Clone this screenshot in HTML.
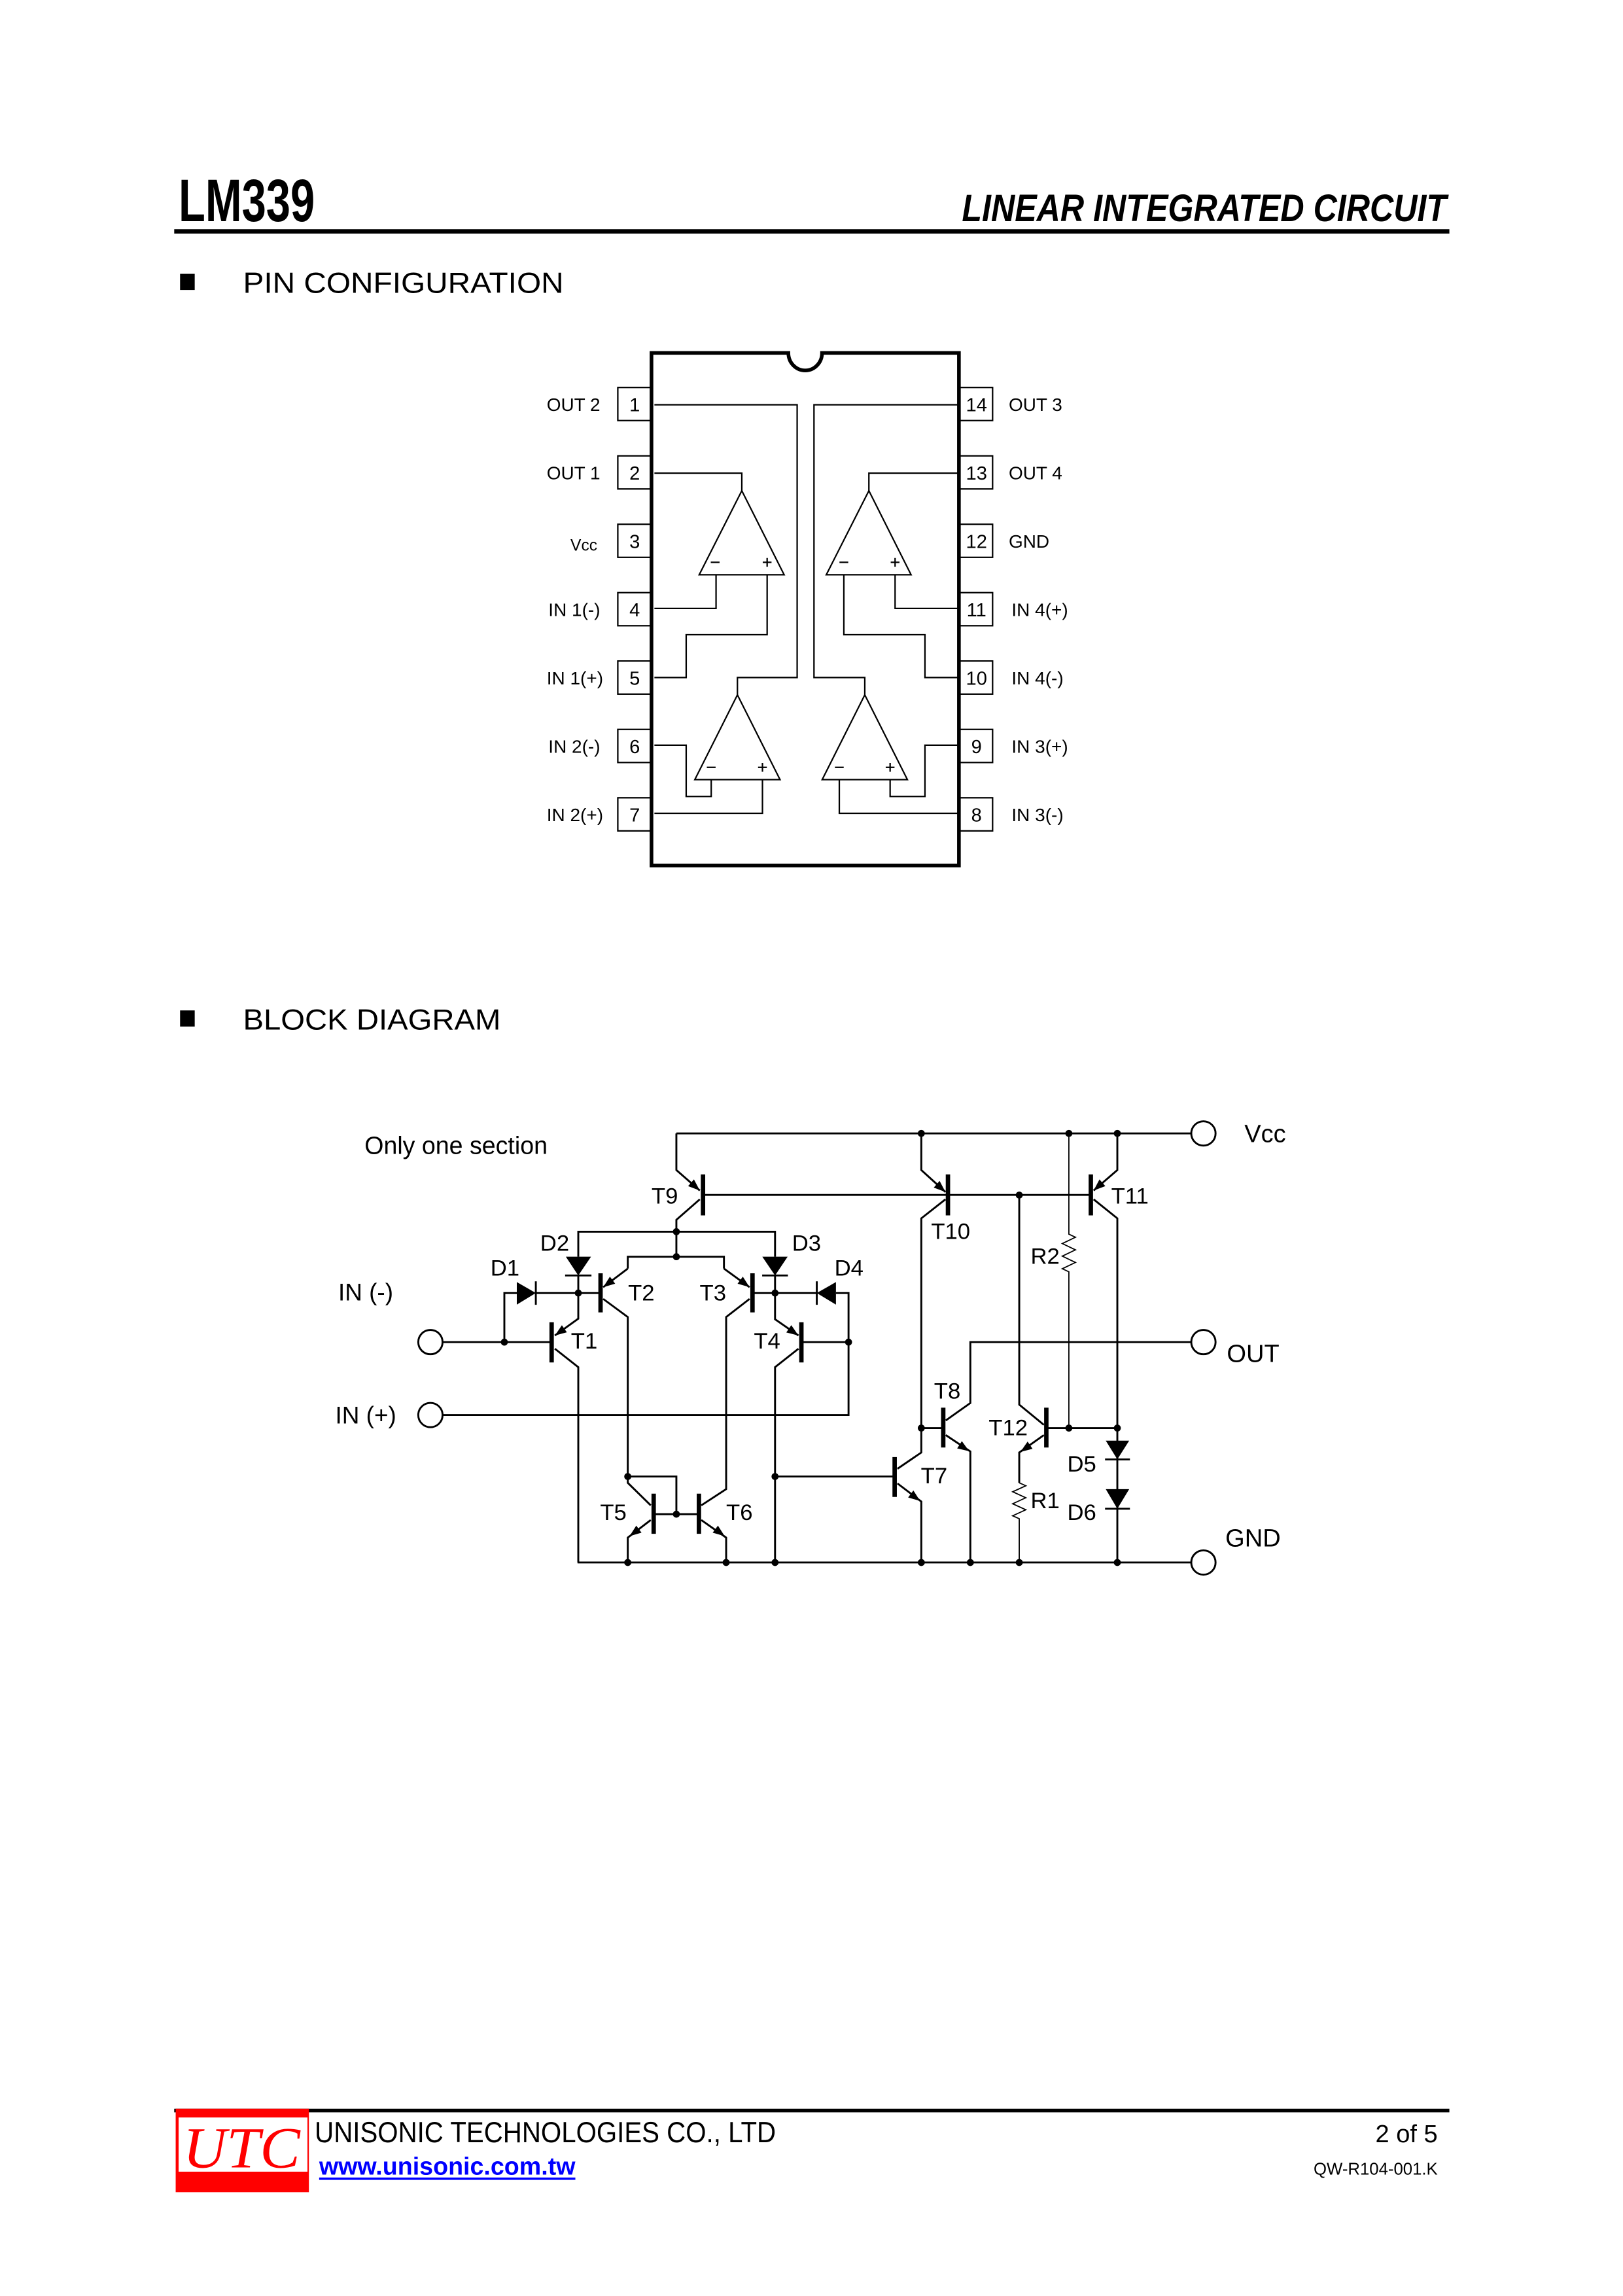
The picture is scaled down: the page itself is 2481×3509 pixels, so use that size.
<!DOCTYPE html>
<html><head><meta charset="utf-8"><style>html,body{margin:0;padding:0;background:#fff}svg{display:block}</style></head>
<body>
<svg xmlns="http://www.w3.org/2000/svg" width="2481" height="3509" viewBox="0 0 1108.6 1567.9" preserveAspectRatio="none" font-family="Liberation Sans, sans-serif">
<rect width="1110" height="1570" fill="#fff"/>
<!-- Header -->
<text x="122" y="151" font-size="41" font-weight="bold" textLength="93" lengthAdjust="spacingAndGlyphs">LM339</text>
<text x="657" y="151" font-size="26" font-weight="bold" font-style="italic" textLength="331" lengthAdjust="spacingAndGlyphs">LINEAR INTEGRATED CIRCUIT</text>
<rect x="119" y="156.5" width="871" height="3" fill="#000"/>
<rect x="123" y="187" width="10" height="11" fill="#000"/>
<text x="166" y="200" font-size="20" textLength="219" lengthAdjust="spacingAndGlyphs">PIN CONFIGURATION</text>
<rect x="123" y="690" width="10" height="11" fill="#000"/>
<text x="166" y="703" font-size="20" textLength="176" lengthAdjust="spacingAndGlyphs">BLOCK DIAGRAM</text>

<!-- Pin configuration -->
<g fill="none" stroke="#000">
<path d="M445,241 H538.5 A11.5,12 0 0 0 561.5,241 H655 V591 H445 Z" stroke-width="2.5"/>
<g stroke-width="1">
<rect x="422" y="264.6" width="23" height="22.6"/>
<rect x="422" y="311.3" width="23" height="22.6"/>
<rect x="422" y="358" width="23" height="22.6"/>
<rect x="422" y="404.7" width="23" height="22.6"/>
<rect x="422" y="451.4" width="23" height="22.6"/>
<rect x="422" y="498.1" width="23" height="22.6"/>
<rect x="422" y="544.8" width="23" height="22.6"/>
<rect x="655" y="264.6" width="23" height="22.6"/>
<rect x="655" y="311.3" width="23" height="22.6"/>
<rect x="655" y="358" width="23" height="22.6"/>
<rect x="655" y="404.7" width="23" height="22.6"/>
<rect x="655" y="451.4" width="23" height="22.6"/>
<rect x="655" y="498.1" width="23" height="22.6"/>
<rect x="655" y="544.8" width="23" height="22.6"/>
<path d="M447,276.4 H544.5 V462.7 H503.7 V474.5"/>
<path d="M654,276.4 H556 V462.7 H590.7 V474.5"/>
<path d="M506.7,335.1 L477.6,392.5 H535.6 Z"/>
<path d="M447,323.1 H506.7 V335.1"/>
<path d="M447,415.5 H489.1 V392.5"/>
<path d="M447,462.7 H468.7 V433.4 H524 V392.5"/>
<path d="M593.5,335.1 L564.4,392.5 H622.3 Z"/>
<path d="M654,323.1 H593.5 V335.1"/>
<path d="M654,415.5 H611.4 V392.5"/>
<path d="M654,462.7 H631.8 V433.4 H576.4 V392.5"/>
<path d="M503.7,474.5 L474.6,532.4 H532.8 Z"/>
<path d="M447,508.9 H468.7 V543.9 H485.8 V532.4"/>
<path d="M447,555.4 H520.8 V532.4"/>
<path d="M590.7,474.5 L561.6,532.4 H619.8 Z"/>
<path d="M654,508.9 H631.8 V543.9 H608 V532.4"/>
<path d="M654,555.4 H573.3 V532.4"/>
<path d="M485.5,384 h6 M521,384 h6 M524,381 v6 M573.4,384 h6 M608.4,384 h6 M611.4,381 v6 M482.8,524 h6 M517.8,524 h6 M520.8,521 v6 M570.3,524 h6 M605,524 h6 M608,521 v6"/>
</g></g>
<g font-size="12.5" text-anchor="end">
<text x="410" y="280.5">OUT 2</text><text x="410" y="327.2">OUT 1</text>
<text x="408" y="376" font-size="11">Vcc</text><text x="410" y="420.6">IN 1(-)</text>
<text x="412" y="467.3">IN 1(+)</text><text x="410" y="514">IN 2(-)</text><text x="412" y="560.7">IN 2(+)</text>
</g>
<g font-size="12.5">
<text x="689" y="280.5">OUT 3</text><text x="689" y="327.2">OUT 4</text><text x="689" y="374">GND</text>
<text x="691" y="420.6">IN 4(+)</text><text x="691" y="467.3">IN 4(-)</text><text x="691" y="514">IN 3(+)</text><text x="691" y="560.7">IN 3(-)</text>
</g>
<g font-size="13" text-anchor="middle">
<text x="433.5" y="280.8">1</text><text x="433.5" y="327.5">2</text><text x="433.5" y="374.2">3</text><text x="433.5" y="420.9">4</text><text x="433.5" y="467.6">5</text><text x="433.5" y="514.3">6</text><text x="433.5" y="561">7</text>
<text x="667" y="280.8">14</text><text x="667" y="327.5">13</text><text x="667" y="374.2">12</text><text x="667" y="420.9">11</text><text x="667" y="467.6">10</text><text x="667" y="514.3">9</text><text x="667" y="561">8</text>
</g>

<!-- Block diagram -->
<g fill="none" stroke="#000" stroke-width="1.3">
<path d="M462,774 H813.5"/>
<path d="M394.5,1067 H813.5"/>
<path d="M462,774 V799 L478,813 M478,819 L462,833 V858.2 M480,816 H745"/>
<path d="M629.3,774 V799 L645.8,814 M645.8,819 L629.3,832 V991.9 L613,1003"/>
<path d="M763.2,774 V799 L747,813 M747,819 L763.2,832 V1067"/>
<path d="M730.1,774 V842.8 l4.5,2.1 l-9,4.3 l9,4.3 l-9,4.3 l9,4.3 l-9,4.3 l4.5,2.1 V975.2" stroke-width="0.8"/>
<path d="M696.2,816.1 V959.2 L713,973 M714.7,975.2 H763.2 M713,980 L696.2,991.9 V1012.6"/>
<path d="M696.2,1012.6 l4.5,2 l-9,4.1 l9,4.1 l-9,4.1 l9,4.1 l-9,4.1 l4.5,2 V1067" stroke-width="0.8"/>
<path d="M629.3,975.2 H644.3 M646,970 L662.8,958.1 V916.5 H813.5 M646,980 L662.8,991.2 V1067"/>
<path d="M529.4,1008.3 H611.1 M613,1013 L629.3,1025.4 V1067"/>
<path d="M395,858.2 V841.1 H529.4 V858.2 M428.8,866.3 V858.2 H494.5 V866.3"/>
<path d="M428.8,866.3 L412,879 M412,887 L428.8,899.4 V1012.6 L444.5,1028"/>
<path d="M494.5,866.3 L512,879 M512,887 L496,899.4 V1016.9 L479,1028"/>
<path d="M302.5,916.5 H376.8 M395,883 V900.5 L379,912 M379,921 L395,933.6 V1067"/>
<path d="M344.5,916.5 V883 H353 M366,883 H410.2"/>
<path d="M395,871 V883"/>
<path d="M529.4,871 V883"/>
<path d="M514,883 H557.9 M571,883 H579.6 V966.3 H302.5 M547.4,916.5 H579.6"/>
<path d="M529.4,883 V900.9 L545.4,912 M545.4,921 L529.4,933.6 V1067"/>
<path d="M428.8,1008.3 H462 V1034 M446.5,1034 H477.4"/>
<path d="M444.5,1038 L428.8,1050 V1067 M479,1038 L496,1050 V1067"/>
<circle cx="294" cy="916.5" r="8.3"/>
<circle cx="294" cy="966.3" r="8.3"/>
<circle cx="822" cy="774" r="8.3"/>
<circle cx="822" cy="916.5" r="8.3"/>
<circle cx="822" cy="1067" r="8.3"/>
</g>
<g stroke="#000" stroke-width="3">
<path d="M480.2,802 V830 M647.5,802 V830 M745.1,802 V830"/>
<path d="M376.8,903 V930.4 M410.2,869.5 V896.2 M514,869.5 V896.2 M547.4,903 V930.4"/>
<path d="M446.5,1020 V1047.4 M477.4,1020 V1047.4 M611.1,995 V1022.2 M644.3,961.3 V988.5 M714.7,961.3 V988.5"/>
</g>
<g stroke="#000" stroke-width="1.3">
<path d="M366,875 V891 M386,871 H404 M520.6,871 H538.2 M557.9,875 V891 M754.8,996.6 H771.8 M754.8,1030.3 H771.8"/>
</g>
<g fill="#000">
<polygon points="353,875.5 353,890.9 366,883"/>
<polygon points="386.5,858.2 403.7,858.2 395,871"/>
<polygon points="520.7,858.2 538,858.2 529.4,871"/>
<polygon points="571,875.5 571,890.9 557.9,883"/>
<polygon points="755.3,983.8 771.3,983.8 763.2,996.6"/>
<polygon points="755.3,1016.9 771.3,1016.9 763.2,1030.3"/>
<polygon points="478,813 470,810 474,805.4"/>
<polygon points="645.8,814 637.8,811 641.8,806.4"/>
<polygon points="747,813 751,805.4 755,810"/>
<polygon points="379,912 383.8,905 387.2,909.8"/>
<polygon points="412,879 416.6,871.8 420.2,876.6"/>
<polygon points="512,879 503.8,876.6 507.4,871.8"/>
<polygon points="545.4,912 537.1,909.9 540.5,904.9"/>
<polygon points="430,1049 434.6,1041.8 438.2,1046.6"/>
<polygon points="495,1049 486.8,1046.6 490.4,1041.8"/>
<polygon points="628.5,1025 620.3,1022.6 623.9,1017.8"/>
<polygon points="662,991 653.8,989.1 657,984.1"/>
<polygon points="697,991.5 701.9,984.4 705.3,989.4"/>
<circle cx="629.3" cy="774" r="2.4"/><circle cx="730.1" cy="774" r="2.4"/><circle cx="763.2" cy="774" r="2.4"/>
<circle cx="462" cy="841.1" r="2.4"/><circle cx="462" cy="858.2" r="2.4"/><circle cx="696.2" cy="816.1" r="2.4"/>
<circle cx="395" cy="883" r="2.4"/><circle cx="529.4" cy="883" r="2.4"/><circle cx="344.5" cy="916.5" r="2.4"/><circle cx="579.6" cy="916.5" r="2.4"/>
<circle cx="629.3" cy="975.2" r="2.4"/><circle cx="730.1" cy="975.2" r="2.4"/><circle cx="763.2" cy="975.2" r="2.4"/>
<circle cx="428.8" cy="1008.3" r="2.4"/><circle cx="529.4" cy="1008.3" r="2.4"/><circle cx="462" cy="1034" r="2.4"/>
<circle cx="428.8" cy="1067" r="2.4"/><circle cx="496" cy="1067" r="2.4"/><circle cx="529.4" cy="1067" r="2.4"/><circle cx="629.3" cy="1067" r="2.4"/><circle cx="662.8" cy="1067" r="2.4"/><circle cx="696.2" cy="1067" r="2.4"/><circle cx="763.2" cy="1067" r="2.4"/>
</g>
<g font-size="15.5">
<text x="249" y="788" font-size="17" textLength="125" lengthAdjust="spacingAndGlyphs">Only one section</text>
<text x="850" y="780" font-size="17">Vcc</text>
<text x="838" y="930" font-size="17">OUT</text>
<text x="837" y="1056" font-size="17">GND</text>
<text x="231" y="888" font-size="16.5">IN  (-)</text>
<text x="229" y="972" font-size="16.5">IN  (+)</text>
<text x="445" y="822">T9</text>
<text x="636" y="846">T10</text>
<text x="759" y="822">T11</text>
<text x="369" y="854">D2</text>
<text x="541" y="854">D3</text>
<text x="335" y="871">D1</text>
<text x="570" y="871">D4</text>
<text x="429" y="888">T2</text>
<text x="496" y="888" text-anchor="end">T3</text>
<text x="390" y="921">T1</text>
<text x="533" y="921" text-anchor="end">T4</text>
<text x="428" y="1038" text-anchor="end">T5</text>
<text x="496" y="1038">T6</text>
<text x="629" y="1013">T7</text>
<text x="638" y="955">T8</text>
<text x="702" y="980" text-anchor="end">T12</text>
<text x="704" y="863">R2</text>
<text x="704" y="1030">R1</text>
<text x="729" y="1005">D5</text>
<text x="729" y="1038">D6</text>
</g>

<!-- Footer -->
<rect x="119" y="1440" width="871" height="2.5" fill="#000"/>
<rect x="120" y="1440" width="91" height="57" fill="#ff0000"/>
<rect x="122" y="1446" width="88" height="37" fill="#fff"/>
<text x="125" y="1480" font-family="Liberation Serif, serif" font-style="italic" font-size="40" fill="#ff0000" textLength="80" lengthAdjust="spacingAndGlyphs">UTC</text>
<text x="215" y="1463" font-size="20" textLength="315" lengthAdjust="spacingAndGlyphs">UNISONIC TECHNOLOGIES CO., LTD</text>
<text x="218" y="1485" font-size="17" font-weight="bold" fill="#0000ff" textLength="175" lengthAdjust="spacingAndGlyphs">www.unisonic.com.tw</text>
<rect x="218" y="1487" width="175" height="1.6" fill="#0000ff"/>
<text x="982" y="1463" font-size="17" text-anchor="end">2 of 5</text>
<text x="982" y="1485" font-size="11.5" text-anchor="end">QW-R104-001.K</text>
</svg>
</body></html>
